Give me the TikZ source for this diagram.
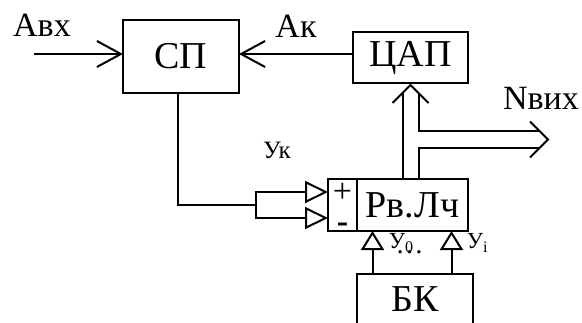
\documentclass[tikz,border=0pt]{standalone}
\usepackage{fontspec}
\setmainfont{Liberation Serif}
\usetikzlibrary{arrows.meta, positioning, calc}
\tikzset{
  block/.style={
    rectangle, draw, line width=1pt, inner sep=0pt, outer sep=0pt,
    font=\fontsize{19}{22}\selectfont
  },
  sig/.style={font=\fontsize{17}{20}\selectfont, inner sep=0pt},
  sigsmall/.style={font=\fontsize{11.5}{13}\selectfont, inner sep=0pt},
  sign/.style={font=\fontsize{17}{20}\selectfont, inner sep=0pt},
  wire/.style={line width=1pt},
  barb/.style={wire, -{Straight Barb[length=12pt, width=13pt]}},
  intri/.style={wire, -{Triangle[open, length=11.5pt, width=11pt]}},
  uptri/.style={wire, -{Triangle[open, length=9.5pt, width=11.5pt]}},
  bus/.style={wire, line join=miter}
}
\begin{document}
\begin{tikzpicture}[x=0.5pt, y=-0.5pt]
  \clip (0,0) rectangle (582,322);
  \node[block, minimum width=58pt, minimum height=36.5pt] (sp) at (181,56.5) {СП};
  \node[block, minimum width=57.5pt, minimum height=25.5pt] (dac) at (410.5,57.5) {ЦАП};
  \node[block, minimum width=55.5pt, minimum height=26pt] (rvl) at (412.5,205) {Рв.Лч};
  \node[block, minimum width=14.5pt, minimum height=26pt, left=0pt of rvl] (sgn) {};
  \node[block, minimum width=58pt, minimum height=25pt] (bk) at (415,299) {БК};
  \node[sign] (plus) at ($(sgn.center)+(0,-12)$) {+};
  \node[sign] (minus) at ($(sgn.center)+(0,23)$) {\textbf{-}};

  \node[sig] (ain) at (42,25) {Авх};
  \node[sig] (ak) at (296,26) {Ак};
  \node[sig] (nout) at (541,98) {Nвих};
  \node[font=\fontsize{12.5}{15}\selectfont, inner sep=0pt] (yk) at (277,150) {Ук};

  \coordinate (in) at (34,54);
  \draw[barb] (in) -- (sp.west |- in);
  \draw[barb] (dac.west |- in) -- (sp.east |- in);

  \coordinate (fork) at (256,205);
  \draw[wire] ($(sp.south)+(-3,0)$) |- (fork);
  \draw[intri] (fork) |- ($(sgn.west)+(0,-13)$);
  \draw[intri] (fork) |- ($(sgn.west)+(0,13)$);

  \coordinate (tip) at ($(dac.south)+(0,2)$);
  \coordinate (bl) at ($(tip)+(-8,8)$);
  \coordinate (br) at ($(tip)+(8,8)$);
  \coordinate (otip) at (548,139.5);
  \draw[bus] ($(tip)+(-18,18)$) -- (tip) -- ($(tip)+(18,18)$);
  \draw[bus] (bl) -- (bl |- rvl.north);
  \draw[bus] (br) |- ($(otip)+(-8.5,-8.5)$);
  \draw[bus] ($(otip)+(-8.5,8.5)$) -| (br |- rvl.north);
  \draw[bus] ($(otip)+(-18,-18)$) -- (otip) -- ($(otip)+(-18,18)$);

  \coordinate (b0) at ($(rvl.south)+(-40,0)$);
  \coordinate (bi) at ($(rvl.south)+(39,0)$);
  \draw[uptri] (b0 |- bk.north) -- (b0);
  \draw[uptri] (bi |- bk.north) -- (bi);
  \node[sigsmall, anchor=west] (y0) at ($(b0)+(16,12)$) {У\textsubscript{0}};
  \node[font=\fontsize{14}{16}\selectfont, inner sep=0pt] (dots) at ($(b0)+(37,21)$) {…};
  \node[sigsmall, anchor=west] (yi) at ($(bi)+(15,12)$) {У\textsubscript{i}};
\end{tikzpicture}
\end{document}
